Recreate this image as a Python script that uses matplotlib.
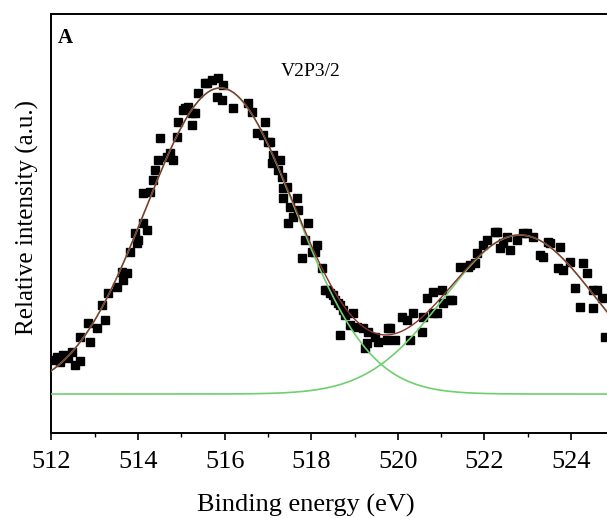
import numpy as np
import matplotlib
matplotlib.use("Agg")
import matplotlib.pyplot as plt
from matplotlib.ticker import MultipleLocator

plt.rcParams['font.family'] = ['Liberation Serif', 'DejaVu Serif']

# measured points (binding energy in eV, intensity in arbitrary units)
energy = [512.08, 512.13, 512.20, 512.27, 512.38, 512.47, 512.54, 512.66, 512.66, 512.84,
          512.89, 513.05, 513.17, 513.24, 513.30, 513.51, 513.63, 513.65, 513.74, 513.81,
          513.93, 513.97, 514.00, 514.11, 514.11, 514.21, 514.27, 514.34, 514.39, 514.46,
          514.51, 514.67, 514.74, 514.81, 514.90, 514.92, 515.04, 515.08, 515.15, 515.24,
          515.24, 515.31, 515.38, 515.55, 515.59, 515.71, 515.85, 515.82, 515.94, 515.96,
          516.19, 516.54, 516.63, 516.75, 516.88, 516.93, 517.00, 517.05, 517.12, 517.09,
          517.23, 517.28, 517.32, 517.35, 517.44, 517.35, 517.51, 517.67, 517.69, 517.58,
          517.46, 517.92, 517.85, 518.13, 518.02, 517.79, 518.09, 518.25, 518.32, 518.36,
          518.43, 518.50, 518.55, 518.62, 518.66, 518.73, 518.78, 518.66, 518.89, 518.96,
          519.06, 519.19, 519.24, 519.29, 519.31, 519.47, 519.54, 519.75, 519.77, 519.82,
          519.93, 520.10, 520.21, 520.28, 520.35, 520.56, 520.58, 520.67, 520.81, 520.81,
          520.90, 521.02, 521.04, 521.20, 521.25, 521.43, 521.62, 521.67, 521.78, 521.83,
          521.97, 522.06, 522.24, 522.29, 522.36, 522.43, 522.52, 522.59, 522.75, 522.89,
          522.98, 523.12, 523.28, 523.35, 523.47, 523.51, 523.70, 523.74, 523.81, 523.98,
          524.09, 524.21, 524.28, 524.37, 524.51, 524.51, 524.60, 524.71, 524.78]
intensity = [34, 37, 32, 39, 36, 42, 29, 33, 57, 71,
             52, 66, 89, 74, 101, 107, 122, 114, 121, 142,
             161, 151, 154, 171, 201, 164, 202, 214, 224, 234,
             256, 237, 241, 234, 257, 272, 284, 286, 287, 269,
             281, 281, 301, 311, 311, 314, 316, 297, 294, 309,
             286, 291, 282, 261, 259, 272, 252, 252, 239, 231,
             224, 234, 217, 206, 207, 196, 187, 196, 184, 177,
             171, 171, 154, 149, 142, 136, 142, 126, 104, 104,
             101, 99, 94, 91, 89, 84, 79, 59, 69, 81,
             67, 66, 46, 51, 62, 57, 52, 54, 66, 66,
             54, 77, 74, 54, 81, 62, 77, 96, 81, 102,
             81, 104, 91, 94, 94, 127, 127, 129, 131, 141,
             149, 154, 162, 162, 146, 151, 157, 144, 154, 161,
             161, 157, 139, 137, 152, 151, 126, 147, 124, 132,
             106, 87, 131, 121, 104, 86, 104, 96, 57]

# fitted components: centre (eV), height, gaussian sigma (eV)
peak_centers = [515.9, 522.82]
peak_heights = [306, 159]
peak_sigmas = [1.72, 1.75]
baseline = 0

fig = plt.figure(figsize=(6.07, 5.18), dpi=100)
ax = fig.add_axes([0.0848, 0.164, 0.9273, 0.809])

ax.plot(energy, intensity, 's', color='black', ms=6.3, mec='black', zorder=2)

xs = np.linspace(512, 525, 600)
comps = []
for c, h, s in zip(peak_centers, peak_heights, peak_sigmas):
    comp = baseline + h * np.exp(-(xs - c) ** 2 / (2 * s ** 2))
    comps.append(comp)
    ax.plot(xs, comp, color='#6fcf6f', lw=1.2, zorder=3)
envelope = comps[0] + comps[1] - baseline
ax.plot(xs, envelope, color='#8a3030', lw=1.0, zorder=4)

ax.set_xlim(512, 525)
ax.set_ylim(-39, 380)
ax.xaxis.set_major_locator(MultipleLocator(2))
ax.xaxis.set_minor_locator(MultipleLocator(1))
ax.tick_params(axis='x', which='major', direction='out', length=5, width=1.2,
               labelsize=19, pad=8)
ax.tick_params(axis='x', which='minor', direction='out', length=3, width=1.0)
ax.set_yticks([])
for sp in ax.spines.values():
    sp.set_linewidth(1.4)

ax.set_xlabel("Binding energy (eV)", fontsize=19)
ax.xaxis.set_label_coords(0.451, -0.145)
ax.set_ylabel("Relative intensity (a.u.)", fontsize=18)
ax.yaxis.set_label_coords(-0.022, 0.515)

ax.text(0.012, 0.93, "A", transform=ax.transAxes, fontsize=15, fontweight='bold')
ax.text(517.99, 322, "V2P3/2", fontsize=14, ha='center', va='center')

fig.savefig("out.png", dpi=100)
